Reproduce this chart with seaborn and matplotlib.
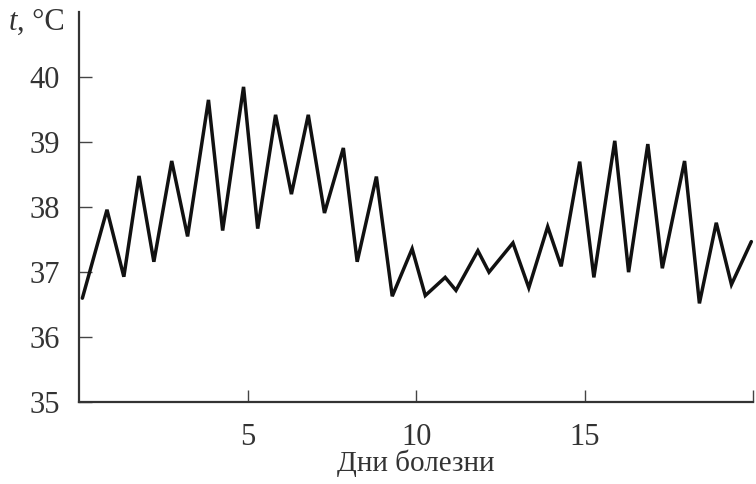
import matplotlib
matplotlib.use("Agg")
import matplotlib.pyplot as plt
import pandas as pd
import seaborn as sns

# days of illness (morning / evening readings)
DAYS = [
    0.1, 0.83, 1.33, 1.78, 2.22, 2.75, 3.22, 3.84, 4.26, 4.88,
    5.3, 5.83, 6.3, 6.8, 7.28, 7.84, 8.25, 8.82, 9.29, 9.88,
    10.27, 10.86, 11.18, 11.83, 12.16, 12.87, 13.34, 13.9, 14.3, 14.85,
    15.27, 15.89, 16.3, 16.87, 17.3, 17.96, 18.4, 18.9, 19.35, 19.94,
]
TEMPS = [
    36.6, 37.96, 36.93, 38.48, 37.16, 38.71, 37.55, 39.65, 37.64, 39.85,
    37.67, 39.42, 38.2, 39.42, 37.91, 38.91, 37.16, 38.47, 36.63, 37.36,
    36.64, 36.92, 36.72, 37.33, 37.0, 37.45, 36.76, 37.7, 37.09, 38.7,
    36.92, 39.02, 37.0, 38.97, 37.06, 38.71, 36.52, 37.76, 36.81, 37.47,
]
X_TICKS = [5, 10, 15, 20]
X_TICK_LABELS = ["5", "10", "15", ""]
Y_TICKS = [35, 36, 37, 38, 39, 40]

sns.set_theme(style="ticks")
plt.rcParams["font.family"] = ["Liberation Serif", "DejaVu Serif"]

data = pd.DataFrame({"day": DAYS, "temp": TEMPS})

fig = plt.figure(figsize=(7.56, 4.84), dpi=100)
ax = fig.add_axes([0.1045, 0.169, 0.892, 0.806])

sns.lineplot(data=data, x="day", y="temp", ax=ax, color="#111111",
             linewidth=2.5, solid_joinstyle="miter")

ax.set_xlim(0, 20)
ax.set_ylim(35, 41)
ax.set_xticks(X_TICKS)
ax.set_xticklabels(X_TICK_LABELS)
ax.set_yticks(Y_TICKS)

sns.despine(ax=ax)
for side in ("left", "bottom"):
    ax.spines[side].set_linewidth(1.6)
    ax.spines[side].set_color("#333333")

ax.tick_params(axis="both", direction="in", length=9, width=1.0,
               color="#444444", labelsize=22, labelcolor="#333333")
ax.tick_params(axis="y", pad=14)
ax.tick_params(axis="x", pad=15)

ax.set_xlabel("Дни болезни", fontsize=21, color="#333333", labelpad=-2)
ax.set_ylabel("")

fig.text(0.012, 0.953, "t", fontsize=22, style="italic", color="#333333",
         va="center", ha="left")
fig.text(0.023, 0.953, ", °C", fontsize=22, color="#333333",
         va="center", ha="left")

fig.savefig("out.png", dpi=100)
